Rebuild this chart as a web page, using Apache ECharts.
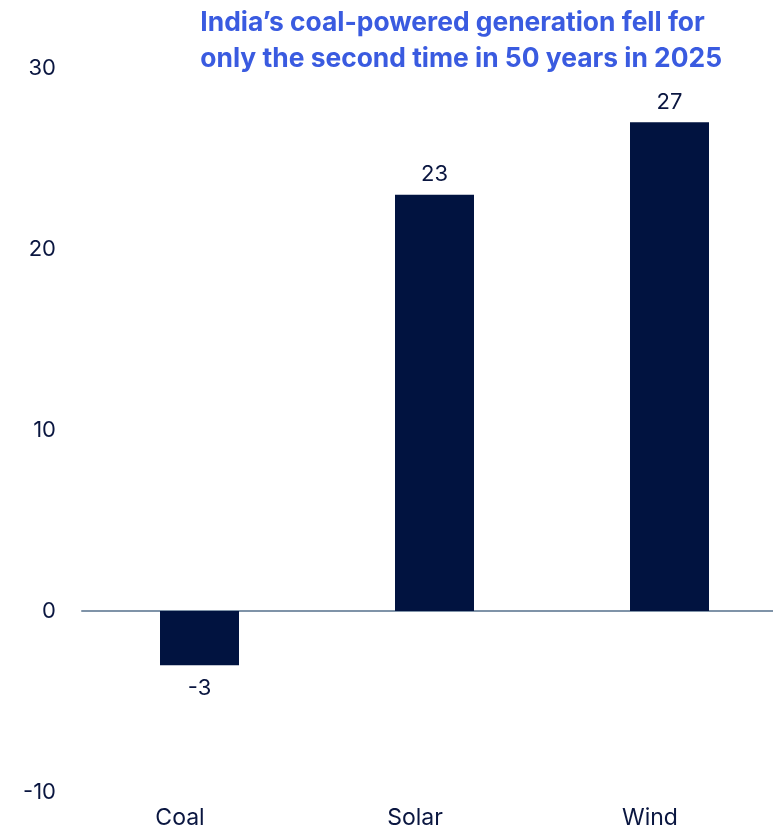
<!DOCTYPE html>
<html><head><meta charset="utf-8">
<script src="https://cdn.jsdelivr.net/npm/echarts@6/dist/echarts.min.js"></script>
<style>html,body{margin:0;padding:0;background:#fff;overflow:hidden}#c{width:787px;height:833px}</style>
</head><body><div id="c"></div>
<script>
const categories = ["Coal", "Solar", "Wind"];
const values = [-3, 23, 27];
const titleLines = ["India\u2019s coal-powered generation fell for", "only the second time in 50 years in 2025"];

const chart = echarts.init(document.getElementById('c'));
chart.setOption({
  animation: false,
  title: {
    text: titleLines.join('\n'),
    right: 60, top: 0,
    textStyle: { fontFamily: 'Inter', fontWeight: 'bold', fontSize: 26.4, lineHeight: 36, color: '#3a5be0' }
  },
  grid: { left: 82, right: 0, top: 68, bottom: 41, containLabel: false },
  xAxis: {
    type: 'category', data: categories,
    axisLine: { onZero: true, lineStyle: { color: '#7f93a8', width: 2 } },
    axisTick: { show: false },
    axisLabel: { fontFamily: 'Inter', fontSize: 23, color: '#0a1640', margin: 15, padding: [0, 39, 0, 0] }
  },
  yAxis: {
    type: 'value', min: -10, max: 30, interval: 10,
    splitLine: { show: false }, axisLine: { show: false }, axisTick: { show: false },
    axisLabel: { fontFamily: 'Inter', fontSize: 22, color: '#0a1640', margin: 26 }
  },
  series: [{
    type: 'bar',
    data: values.map(v => ({ value: v, label: { distance: v < 0 ? 12 : 9 } })),
    barWidth: 79,
    itemStyle: { color: '#011340' },
    label: { show: true, position: 'outside', fontFamily: 'Inter', fontSize: 22, color: '#0a1640' }
  }]
});
</script></body></html>
